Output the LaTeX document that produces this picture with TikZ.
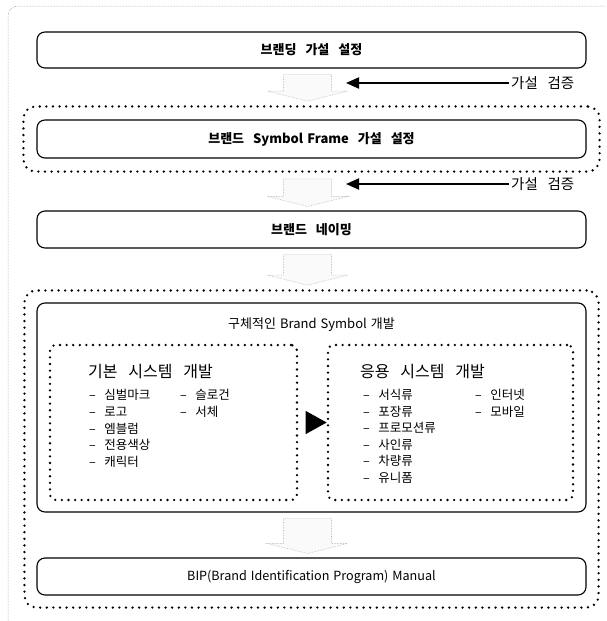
\documentclass[tikz,border=0pt]{standalone}
\usepackage{fontspec}
\setmainfont{Noto Sans CJK KR}[WordSpace=3]
\newfontfamily\narrow{Noto Sans CJK KR}[WordSpace=1.4]
\usetikzlibrary{arrows.meta,shapes.geometric,fit,calc}

\tikzset{
  stage/.style={draw, line width=1.1pt, rounded corners=8pt, minimum width=549pt, inner sep=0pt, font=\fontsize{13}{15}\selectfont\bfseries},
  dotframe/.style={draw, line width=2.6pt, line cap=round, dash pattern=on 0pt off 6.6pt, rounded corners=12pt},
  fatarrow/.style={draw=gray!55, densely dotted, line width=0.6pt, fill=gray!4},
  checkarrow/.style={line width=2pt, -{Triangle[length=13pt,width=11pt]}},
  verify/.style={anchor=west, inner sep=2pt, font=\fontsize{14.5}{16}\selectfont},
  subhead/.style={anchor=west, inner sep=0pt, font=\fontsize{16}{18}\selectfont},
  item/.style={anchor=west, inner sep=0pt, font=\fontsize{12.5}{14}\selectfont},
  tri/.style={isosceles triangle, isosceles triangle apex angle=58, fill=black, inner sep=0pt, minimum height=21pt}
}

% fat down arrow between two nodes
\newcommand{\fatdown}[2]{%
  \draw[fatarrow] let \p1=(#1.south), \p2=(#2.north) in
    (\x1-28pt,\y1-6pt) -- (\x1+20pt,\y1-6pt) -- (\x1+20pt,\y2+14pt) -- (\x1+36pt,\y2+14pt)
    -- (\x1-4pt,\y2+4pt) -- (\x1-44pt,\y2+14pt) -- (\x1-28pt,\y2+14pt) -- cycle;}

\begin{document}
\begin{tikzpicture}[x=1pt,y=-1pt]
	\useasboundingbox (0,0) rectangle (606,621);
	% page frame
	\draw[gray, line width=0.5pt, densely dotted, rounded corners=10pt] (8,621) -- (8,6) -- (606,6);
	% stages
	\node[stage, minimum height=36pt] (branding) at (311.5,50) {브랜딩 가설 설정};
	\node[stage, minimum height=38pt] (frame) at (311.5,139) {브랜드 {\narrow Symbol Frame} 가설 설정};
	\node[dotframe, fit=(frame), inner sep=13pt] (frameset) {};
	\node[stage, minimum height=37pt] (naming) at (311.5,229.5) {브랜드 네이밍};
	\node[stage, minimum height=209pt] (develop) at (311.5,407.5) {};
	\node[font=\fontsize{13}{15}\selectfont\narrow] (develop title) at (311.5,325) {구체적인 Brand Symbol 개발};
	\node[stage, minimum height=37pt, font=\fontsize{12.6}{14}\selectfont\narrow] (manual) at (311.5,576.5) {BIP(Brand Identification Program) Manual};
	\node[dotframe, fit=(develop)(manual), inner sep=12pt] (devset) {};
	% sub systems
	\node[dotframe, rounded corners=6pt, minimum width=247pt, minimum height=155pt] (basic) at (173.5,422.5) {};
	\node[dotframe, rounded corners=6pt, minimum width=245pt, minimum height=155pt] (applied) at (450.5,422.5) {};
	\node[tri] (link) at ($(basic.east)!0.5!(applied.west)$) {};
	\node[subhead] (basic title) at (88,372) {기본 시스템 개발};
	\node[subhead] (applied title) at (360,372) {응용 시스템 개발};
	\foreach \name [count=\i from 0] in {심벌마크,로고,엠블럼,전용색상,캐릭터}
		\node[item] (basic-\i) at (89,395+16.7*\i) {– \name};
	\foreach \name [count=\i from 0] in {슬로건,서체}
		\node[item] (basic2-\i) at (180,395+16.7*\i) {– \name};
	\foreach \name [count=\i from 0] in {서식류,포장류,프로모션류,사인류,차량류,유니폼}
		\node[item] (applied-\i) at (363,395+16.5*\i) {– \name};
	\foreach \name [count=\i from 0] in {인터넷,모바일}
		\node[item] (applied2-\i) at (475,395+16.5*\i) {– \name};
	% fat arrows
	\fatdown{branding}{frameset}
	\fatdown{frameset}{naming}
	\fatdown{naming}{devset}
	\fatdown{develop}{manual}
	% verification
	\node[verify] (verify top) at (509,83) {가설 검증};
	\coordinate (hit top) at (346,83);
	\draw[checkarrow] (verify top) -- (hit top);
	\node[verify] (verify bottom) at (509,184) {가설 검증};
	\coordinate (hit bottom) at (346,184);
	\draw[checkarrow] (verify bottom) -- (hit bottom);
\end{tikzpicture}
\end{document}
